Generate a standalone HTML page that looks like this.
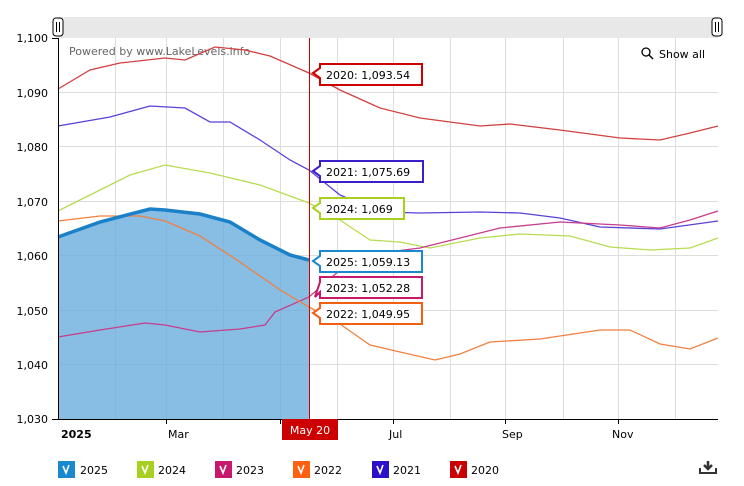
<!DOCTYPE html><html><head><style>body{margin:0;background:#fff}svg{display:block;font-family:"DejaVu Sans",sans-serif}</style></head><body>
<svg width="744" height="486" viewBox="0 0 744 486">
<rect x="58" y="17" width="660" height="21" fill="#e8e8e8"/>
<rect x="53" y="18" width="10" height="18" rx="3" fill="#fff" stroke="#000"/><path d="M56.5 22v10M59.5 22v10" stroke="#000"/>
<rect x="712" y="18" width="10" height="18" rx="3" fill="#fff" stroke="#000"/><path d="M715.5 22v10M718.5 22v10" stroke="#000"/>
<g stroke="#ddd" stroke-width="1">
<path d="M58 92.5H718M58 146.5H718M58 201.5H718M58 255.5H718M58 310.5H718M58 364.5H718"/>
<path d="M115.5 38V419M166.5 38V419M223.5 38V419M280.5 38V419M337.5 38V419M393.5 38V419M450.5 38V419M505.5 38V419M563.5 38V419M618.5 38V419M675.5 38V419"/>
</g>
<text x="69" y="55" font-size="11" fill="#666">Powered by www.LakeLevels.info</text>
<circle cx="646" cy="52" r="4" fill="none" stroke="#000" stroke-width="1.3"/><path d="M649 55l4 4" stroke="#000" stroke-width="1.5"/>
<text x="659" y="58" font-size="11">Show all</text>
<path d="M58,237 L100,222 L150,209 L165,210 L200,214 L230,222 L260,240 L290,255 L309,260 L309,419 L58,419Z" fill="#6aaedd" fill-opacity="0.8"/>
<g fill="none" stroke-width="1.3">
<polyline stroke="#d24040" points="58,89 90,70 120,63 165,58 185,60 215,47 245,50 270,56 309,73 340,90 380,108 420,118 480,126 510,124 560,130 620,138 660,140 690,133 718,126"/>
<polyline stroke="#5a40d8" points="58,126 110,117 150,106 185,108 210,122 230,122 260,140 290,160 309,170 340,195 380,212 420,213 480,212 520,213 560,218 600,227 660,229 718,221"/>
<polyline stroke="#b8dc50" points="58,211 90,195 130,175 165,165 210,173 260,185 309,203 340,220 370,240 400,242 430,248 480,238 520,234 570,236 610,247 650,250 690,248 718,238"/>
<polyline stroke="#c83c8c" points="58,337 100,330 145,323 165,325 200,332 240,329 265,325 275,312 309,297 340,270 380,253 420,248 460,238 500,228 560,222 620,225 660,228 690,220 718,211"/>
<polyline stroke="#f08040" points="58,221 100,216 140,216 165,221 200,236 240,262 280,290 309,307 340,324 370,345 400,352 435,360 460,354 490,342 540,339 600,330 630,330 660,344 690,349 718,338"/>
<polyline stroke="#1a80c8" stroke-width="3.5" points="58,237 100,222 150,209 165,210 200,214 230,222 260,240 290,255 309,260"/>
</g>
<path d="M309.5 38V419" stroke="#c00" stroke-width="1"/>
<path d="M58.5 38V419M58 419.5H718" stroke="#000" stroke-width="1"/>
<g font-size="11" text-anchor="end"><text x="48" y="42">1,100</text><text x="48" y="97">1,090</text><text x="48" y="151">1,080</text><text x="48" y="206">1,070</text><text x="48" y="260">1,060</text><text x="48" y="315">1,050</text><text x="48" y="369">1,040</text><text x="48" y="423">1,030</text></g>
<path d="M52 38.5h6M52 419.5h6M166.5 419v5M280.5 419v5M393.5 419v5M505.5 419v5M618.5 419v5" stroke="#000"/>
<g font-size="11"><text x="61" y="438" font-weight="bold">2025</text><text x="168" y="438">Mar</text><text x="389" y="438">Jul</text><text x="502" y="438">Sep</text><text x="612" y="438">Nov</text></g>
<rect x="282" y="419" width="56" height="21" fill="#c00"/><text x="310" y="434" font-size="11" fill="#fff" text-anchor="middle">May 20</text>
<g stroke-width="2" fill="#fff">
<path d="M320,64 H422 V85 H320 V78 L313,73 L320,68Z" stroke="#c00"/>
<path d="M320,161 H423 V182 H320 V176 L313,171 L320,166Z" stroke="#3a20c8"/>
<path d="M320,198 H404 V219 H320 V213 L313,208 L320,203Z" stroke="#a8d020"/>
<path d="M320,251 H422 V272 H320 V266 L313,261 L320,256Z" stroke="#1a88cc"/>
<path d="M320,277 H422 V298 H320 V292 L315,297 L320,282Z" stroke="#c8186c"/>
<path d="M320,303 H422 V324 H320 V318 L313,313 L320,308Z" stroke="#f06010"/>
</g>
<g font-size="11"><text x="326" y="79">2020: 1,093.54</text><text x="326" y="176">2021: 1,075.69</text><text x="326" y="213">2024: 1,069</text><text x="326" y="266">2025: 1,059.13</text><text x="326" y="292">2023: 1,052.28</text><text x="326" y="318">2022: 1,049.95</text></g>
<g font-size="11">
<rect x="58" y="461" width="17" height="17" fill="#1a88cc"/><text x="80" y="474">2025</text>
<rect x="137" y="461" width="17" height="17" fill="#a8d020"/><text x="158" y="474">2024</text>
<rect x="215" y="461" width="17" height="17" fill="#c8186c"/><text x="236" y="474">2023</text>
<rect x="293" y="461" width="17" height="17" fill="#ff6010"/><text x="314" y="474">2022</text>
<rect x="372" y="461" width="17" height="17" fill="#2a10c8"/><text x="393" y="474">2021</text>
<rect x="450" y="461" width="17" height="17" fill="#c80000"/><text x="471" y="474">2020</text>
</g>
<g fill="none" stroke="#fff" stroke-width="1.6"><path d="M63 466l3 7 3-8M142 466l3 7 3-8M220 466l3 7 3-8M298 466l3 7 3-8M377 466l3 7 3-8M455 466l3 7 3-8"/></g>
<path d="M700 468v5h16v-5" fill="none" stroke="#333" stroke-width="2"/><path d="M708 461v8M704 465l4 4 4-4" fill="none" stroke="#333" stroke-width="2.5"/>
</svg></body></html>
